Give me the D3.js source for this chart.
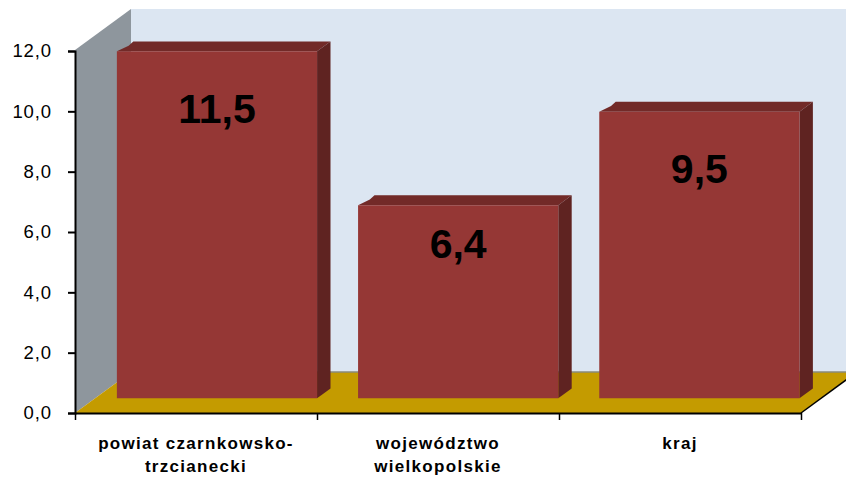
<!DOCTYPE html>
<html>
<head>
<meta charset="utf-8">
<script src="https://cdn.jsdelivr.net/npm/d3@7"></script>
<style>
  body { margin: 0; background: #fff; }
  svg { display: block; font-family: Arial, "Liberation Sans", sans-serif; }
</style>
</head>
<body>
<svg id="chart"></svg>
<script>
// data
const categories = ["powiat czarnkowsko-trzcianecki", "województwo wielkopolskie", "kraj"];
const categoryLines = [["powiat czarnkowsko-", "trzcianecki"], ["województwo", "wielkopolskie"], ["kraj"]];
const values = [11.5, 6.4, 9.5];
const valueLabels = ["11,5", "6,4", "9,5"];
const yTicks = [0, 2, 4, 6, 8, 10, 12];

const width = 846;
const height = 477;

// plot box (front plane) and depth projection
const plotLeft = 75, plotRight = 801, plotBottom = 413, plotTop = 51;
const DX = 56, DY = 41;          // full depth offset
const z0 = 0.36, z1 = 0.6;       // bars sit in the middle of the depth

const svg = d3.select("svg#chart")
  .attr("width", width)
  .attr("height", height);

let yScale = d3.scaleLinear().domain([0, 12]).range([plotBottom, plotTop]);

let xScale = d3.scaleBand()
  .domain(categories)
  .range([plotLeft, plotRight])
  .paddingInner(0.17)
  .paddingOuter(0.09);

let xEdge = d3.scaleLinear().domain([0, categories.length]).range([plotLeft, plotRight]);

// point in 3d -> screen
function proj(x, y, z) {
  return [x + DX * z, y - DY * z];
}
function poly(pts) {
  return pts.map(p => p.join(",")).join(" ");
}

// back wall
svg.append("polygon")
  .attr("points", poly([proj(plotLeft, plotTop - 1, 1), proj(width + 20, plotTop - 1, 1), proj(width + 20, plotBottom, 1), proj(plotLeft, plotBottom, 1)]))
  .style("fill", "#dce6f2");

// side wall
svg.append("polygon")
  .attr("points", poly([[plotLeft, plotBottom], [plotLeft, plotTop - 1], proj(plotLeft, plotTop - 1, 1), proj(plotLeft, plotBottom, 1)]))
  .style("fill", "#8e969d");

// floor
svg.append("polygon")
  .attr("points", poly([[plotLeft, plotBottom], [plotRight, plotBottom], proj(plotRight, plotBottom, 1), proj(plotLeft, plotBottom, 1)]))
  .style("fill", "#c49b00");

svg.append("line")
  .attr("x1", proj(plotLeft, plotBottom, 1)[0])
  .attr("y1", proj(plotLeft, plotBottom, 1)[1])
  .attr("x2", width)
  .attr("y2", proj(plotLeft, plotBottom, 1)[1])
  .style("stroke", "#8a8a7a")
  .style("stroke-width", 1.5);

svg.append("line")
  .attr("x1", plotRight).attr("y1", plotBottom)
  .attr("x2", proj(plotRight, plotBottom, 1)[0]).attr("y2", proj(plotRight, plotBottom, 1)[1])
  .style("stroke", "#000")
  .style("stroke-width", 1.5);

// bars
let bars = svg.selectAll("g.bar")
  .data(values)
  .enter()
  .append("g")
  .attr("class", "bar");

// top face
bars.append("polygon")
  .attr("points", (d, i) => {
    let x0 = xScale(categories[i]), x1 = x0 + xScale.bandwidth(), yt = yScale(d);
    return poly([proj(x0, yt, z0), proj(x1, yt, z0), proj(x1, yt, z1), proj(x0 + 3, yt, z1), proj(x0, yt + 3, z1 - 0.03)]);
  })
  .style("fill", "#722a28");

// side face
bars.append("polygon")
  .attr("points", (d, i) => {
    let x1 = xScale(categories[i]) + xScale.bandwidth(), yt = yScale(d), yb = yScale(0);
    return poly([proj(x1, yt, z0), proj(x1, yt, z1), proj(x1, yb, z1), proj(x1, yb, z0)]);
  })
  .style("fill", "#5f2321");

// front face
bars.append("polygon")
  .attr("points", (d, i) => {
    let x0 = xScale(categories[i]), x1 = x0 + xScale.bandwidth(), yt = yScale(d), yb = yScale(0);
    return poly([proj(x0, yt, z0), proj(x1, yt, z0), proj(x1, yb, z0), proj(x0, yb, z0)]);
  })
  .style("fill", "#953735");

// value labels
bars.append("text")
  .attr("x", (d, i) => proj(xScale(categories[i]) + xScale.bandwidth() / 2, 0, z0)[0])
  .attr("y", (d, i) => {
    let yt = proj(0, yScale(d), z0)[1];
    let h = proj(0, yScale(0), z0)[1] - yt;
    return yt + Math.min(57, 0.197 * h) + 15;
  })
  .attr("text-anchor", "middle")
  .style("font-size", "41px")
  .style("font-weight", "bold")
  .style("fill", "#000")
  .text((d, i) => valueLabels[i]);

// y axis
let yAxis = d3.axisLeft(yScale)
  .tickValues(yTicks)
  .tickSize(7)
  .tickPadding(16)
  .tickFormat(d => d3.format(".1f")(d).replace(".", ","));

let yAxisG = svg.append("g")
  .attr("transform", "translate(" + plotLeft + ",0)")
  .call(yAxis);
yAxisG.select(".domain").style("stroke-width", 2);
yAxisG.selectAll(".tick line").style("stroke-width", 2);
yAxisG.selectAll(".tick text")
  .style("font-size", "18.5px")
  .style("font-family", "Arial, 'Liberation Sans', sans-serif")
  .style("letter-spacing", "0.9px")
  .style("fill", "#000");

// x axis
let xAxis = d3.axisBottom(xEdge)
  .tickValues(d3.range(categories.length + 1))
  .tickSize(7)
  .tickSizeOuter(0)
  .tickFormat("");

let xAxisG = svg.append("g")
  .attr("transform", "translate(0," + plotBottom + ")")
  .call(xAxis);
xAxisG.select(".domain").style("stroke-width", 2);
xAxisG.selectAll(".tick line").style("stroke-width", 1.5);

// category labels
let catLabels = svg.selectAll("text.cat")
  .data(categoryLines)
  .enter()
  .append("text")
  .attr("class", "cat")
  .attr("text-anchor", "middle")
  .style("font-size", "17px")
  .style("font-weight", "bold")
  .style("letter-spacing", "1.3px")
  .style("fill", "#000");

catLabels.selectAll("tspan")
  .data((d, i) => d.map(line => ({ line: line, i: i })))
  .enter()
  .append("tspan")
  .attr("x", d => xEdge(d.i + 0.5))
  .attr("y", (d, j) => 449 + j * 23)
  .text(d => d.line);
</script>
</body>
</html>
